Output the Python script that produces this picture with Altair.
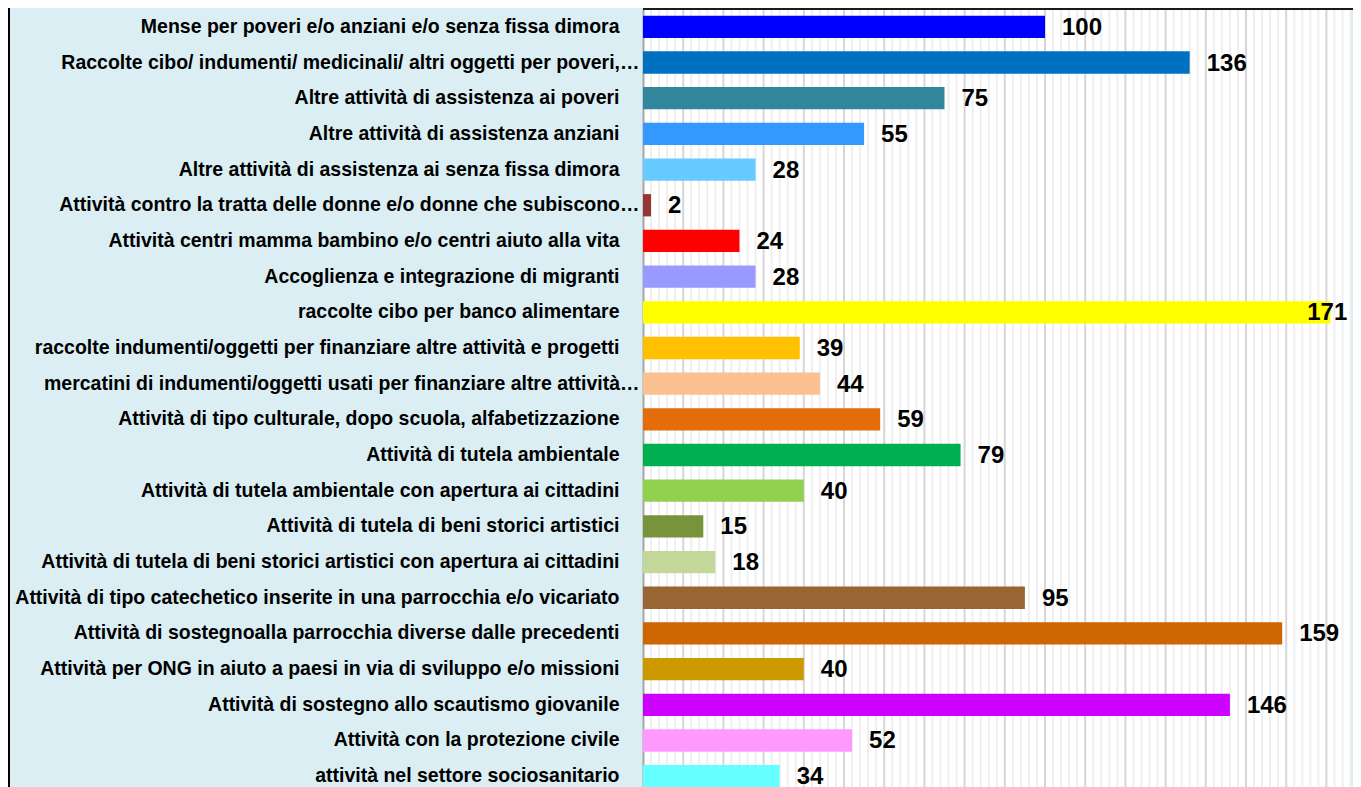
import altair as alt
import pandas as pd

categories = [
    "Mense per poveri e/o anziani e/o senza fissa dimora",
    "Raccolte cibo/ indumenti/ medicinali/ altri oggetti per poveri,…",
    "Altre attività di assistenza ai poveri",
    "Altre attività di assistenza anziani",
    "Altre attività di assistenza ai senza fissa dimora",
    "Attività contro la tratta delle donne e/o donne che subiscono…",
    "Attività centri mamma bambino e/o centri aiuto alla vita",
    "Accoglienza e integrazione di migranti",
    "raccolte cibo per banco alimentare",
    "raccolte indumenti/oggetti per finanziare altre attività e progetti",
    "mercatini di  indumenti/oggetti usati per finanziare altre attività…",
    "Attività di tipo culturale, dopo scuola, alfabetizzazione",
    "Attività di tutela ambientale",
    "Attività di tutela ambientale con apertura ai cittadini",
    "Attività di tutela di beni storici artistici ",
    "Attività di tutela di beni storici artistici con apertura ai cittadini",
    "Attività di tipo catechetico inserite in una parrocchia e/o vicariato",
    "Attività di sostegnoalla parrocchia diverse dalle precedenti",
    "Attività per ONG in aiuto a paesi in via di sviluppo e/o missioni",
    "Attività di sostegno allo scautismo giovanile",
    "Attività con la protezione civile",
    "attività nel settore sociosanitario",
]
values = [100, 136, 75, 55, 28, 2, 24, 28, 171, 39, 44, 59, 79, 40, 15, 18, 95, 159, 40, 146, 52, 34]
colors = [
    "#0000FF", "#0070C0", "#31859C", "#3399FF", "#66CCFF", "#953735", "#FF0000",
    "#9999FF", "#FFFF00", "#FFC000", "#FAC090", "#E46C0A", "#00B050", "#92D050",
    "#77933C", "#C4D79B", "#996633", "#CC6600", "#CC9900", "#CC00FF", "#FF99FF",
    "#66FFFF",
]

df = pd.DataFrame({"cat": categories, "value": values, "color": colors})

X_MAX = 176
x_scale = alt.Scale(domain=[0, X_MAX], nice=False, zero=True)
y_scale = alt.Scale(domain=categories, paddingInner=0.375, paddingOuter=0.1875)

FONT = "Liberation Sans, Arial, sans-serif"

minor = (
    alt.Chart(alt.sequence(0, X_MAX + 1, 2, as_="g"))
    .transform_filter("datum.g % 10 != 0")
    .mark_rule(color="#EFEFEF", strokeWidth=2)
    .encode(x=alt.X("g:Q", scale=x_scale, axis=None))
)
major = (
    alt.Chart(alt.sequence(10, X_MAX + 1, 10, as_="g"))
    .mark_rule(color="#D6D6D6", strokeWidth=2)
    .encode(x=alt.X("g:Q", scale=x_scale, axis=None))
)

base = alt.Chart(df)

bars = base.mark_bar().encode(
    x=alt.X("value:Q", scale=x_scale, axis=None),
    y=alt.Y(
        "cat:N",
        scale=y_scale,
        sort=categories,
        title=None,
        axis=alt.Axis(
            labelFont=FONT,
            labelFontWeight="bold",
            labelFontSize=19.5,
            labelColor="#000000",
            labelLimit=1000,
            labelPadding={"condition": {"test": "indexof(datum.value, '…') >= 0", "value": 4}, "value": 24},
            ticks=False,
            domain=True,
            domainColor="#A6A6A6",
            domainWidth=2,
            grid=False,
        ),
    ),
    color=alt.Color("color:N", scale=None, legend=None),
)

labels = (
    base.transform_calculate(lx="min(datum.value, 161)")
    .mark_text(
        align="left",
        baseline="middle",
        dx=17,
        dy=1,
        font=FONT,
        fontWeight="bold",
        fontSize=24,
        color="#000000",
    )
    .encode(
        x=alt.X("lx:Q", scale=x_scale, axis=None),
        y=alt.Y("cat:N", scale=y_scale, sort=categories),
        text=alt.Text("value:Q"),
    )
)

top_border = alt.Chart(pd.DataFrame({"a": [0]})).mark_rule(color="#1a1a1a", strokeWidth=2).encode(
    x=alt.value(0), x2=alt.value(760), y=alt.value(0)
)
left_border = alt.Chart(pd.DataFrame({"a": [0]})).mark_rule(color="#000000", strokeWidth=2).encode(
    x=alt.value(-634), y=alt.value(-10), y2=alt.value(800)
)

chart = (
    alt.layer(minor, major, bars, labels, top_border, left_border)
    .properties(
        width=X_MAX * 4.02,
        height=785,
        background="#DAEEF3",
        padding={"left": 635, "top": 1, "right": 2, "bottom": 0},
        autosize=alt.AutoSizeParams(type="none"),
    )
    .configure_view(fill="#FFFFFF", stroke=None)
)

chart.save("out.html", embed_options={"renderer": "svg", "actions": False})
